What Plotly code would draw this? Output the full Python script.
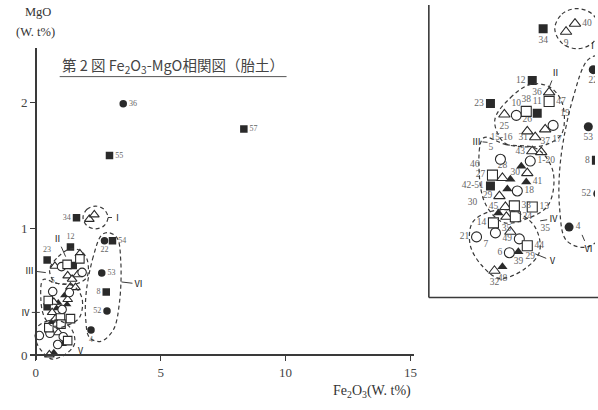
import plotly.graph_objects as go

W, H = 598, 410

# ---- samples: Fe2O3 (wt%) vs MgO (wt%), grouped by marker type ----
# filled squares
fsq_x = [1.63, 1.387, 0.453, 1.498, 0.453, 2.82, 3.07, 2.95, 8.33]
fsq_y = [1.089, 0.857, 0.754, 0.710, 0.384, 0.50, 0.906, 1.58, 1.79]
fsq_id = ["34", "12", "23", "11", "42-51", "8", "54", "55", "57"]
# filled circles
fci_x = [3.5, 2.75, 2.64, 2.85, 2.21]
fci_y = [1.99, 0.906, 0.65, 0.35, 0.20]
fci_id = ["36", "22", "53", "52", "4"]
# filled triangles
ftr_x = [1.142, 0.898, 1.253, 0.831, 0.631, 1.076, 0.72]
ftr_y = [0.473, 0.415, 0.402, 0.371, 0.263, 0.089, 0.022]
ftr_id = ["", "", "41", "", "", "", "48"]
# open triangles
otr_x = [2.142, 2.342, 1.764, 0.764, 1.276, 1.453, 1.676, 1.387, 1.587,
         0.72, 1.276, 0.653, 0.787, 0.809, 0.898, 0.542]
otr_y = [1.076, 1.112, 0.804, 0.705, 0.629, 0.603, 0.638, 0.540, 0.536,
         0.42, 0.442, 0.339, 0.290, 0.246, 0.179, 0.004]
otr_id = ["9", "40", "36", "25", "26", "31", "37", "43", "",
          "28", "30", "29", "45", "35", "", "32"]
# open circles
oci_x = [1.031, 1.853, 0.676, 1.342, 1.053, 0.142, 0.564, 1.098, 0.876]
oci_y = [0.701, 0.656, 0.504, 0.496, 0.362, 0.156, 0.174, 0.147, 0.085]
oci_id = ["10", "19", "5", "1-20", "18", "21", "7", "49", "6"]
# open squares
osq_x = [1.253, 1.764, 0.498, 0.987, 1.387, 1.009, 0.52, 1.276]
osq_y = [0.719, 0.763, 0.433, 0.295, 0.290, 0.246, 0.219, 0.116]
osq_id = ["38", "47", "27", "33", "13", "24", "14", "44"]

# extra sample numbers written beside overlapping symbols in the enlargement
note_txt = ["46", "15-16", "30", "39", "29", "17", "35"]
note_x = [0.10, 0.70, 0.05, 1.08, 1.34, 1.94, 1.68]
note_y = [0.48, 0.60, 0.31, 0.045, 0.068, 0.594, 0.192]

# group outlines (Fe2O3, MgO vertices)
grpI_x = [1.89, 2.05, 2.39, 2.73, 2.89, 2.73, 2.39, 2.05]
grpI_y = [1.09, 1.155, 1.18, 1.155, 1.09, 1.025, 1.0, 1.025]
grpII_x = [0.55, 0.9, 1.35, 1.76, 2.05, 2.05, 1.7, 1.2, 0.75]
grpII_y = [0.68, 0.78, 0.84, 0.83, 0.76, 0.62, 0.57, 0.56, 0.58]
grpIII_x = [0.3, 0.8, 1.5, 1.85, 1.75, 1.3, 0.75, 0.35, 0.2]
grpIII_y = [0.6, 0.57, 0.55, 0.45, 0.3, 0.24, 0.22, 0.3, 0.45]
grpV_x = [0.05, 0.45, 1.0, 1.45, 1.55, 1.2, 0.65, 0.25, 0.0]
grpV_y = [0.22, 0.27, 0.27, 0.2, 0.09, 0.01, -0.03, 0.03, 0.12]
grpVI_x = [2.63, 2.3, 2.02, 2.0, 2.15, 2.6, 3.1, 3.35, 3.4, 3.25, 2.9]
grpVI_y = [0.95, 0.78, 0.5, 0.28, 0.14, 0.11, 0.2, 0.42, 0.75, 0.93, 0.97]

x_ticks = [0, 5, 10, 15]
y_ticks = [0, 1, 2]

# ---- label placement (style) ----
fsq_main_pos = ["middle left", "top center", "top center", None, None,
                "middle left", "middle right", "middle right", "middle right"]
fsq_in_pos = ["bottom center", "middle left", "middle left", "top center",
              "middle left", "middle left", "middle right", None, None]
fci_main_pos = ["middle right", "bottom center", "middle right", "middle left", "bottom center"]
fci_in_pos = ["middle right", "bottom center", "bottom center", "middle left", "middle right"]
ftr_in_pos = [None, None, "middle right", None, None, None, "bottom center"]
otr_in_pos = ["bottom center", "middle right", "middle left", "bottom center", "top center",
              "middle left", "bottom center", "middle left", None, "top center",
              "middle left", "middle left", "middle left", "bottom center", None, "bottom center"]
oci_main_pos = [None, None, "top center", None, None, None, None, None, None]
oci_in_pos = ["top center", "top right", "top left", "middle right", "middle right",
              "middle left", "bottom left", "middle left", "middle left"]
osq_in_pos = ["top center", "middle right", "middle left", "middle right",
              "middle right", "middle right", "middle left", "middle right"]

INK = "#2a2a2a"
LINE = "#3a3a3a"
LBL = "#666666"
SERIF = "Liberation Serif, DejaVu Serif, serif"
CJK = "Noto Sans CJK JP, sans-serif"

# main axes geometry (pixels)
X0_PX, XU = 36, 25.1
Y0_PX, YU = 357, 127


def fx(p):
    return p / W


def fy(p):
    return 1 - p / H


fig = go.Figure()

SYMS = [
    ("square", fsq_x, fsq_y, fsq_id, fsq_main_pos, fsq_in_pos),
    ("circle", fci_x, fci_y, fci_id, fci_main_pos, fci_in_pos),
    ("triangle-up", ftr_x, ftr_y, ftr_id, [None] * len(ftr_x), ftr_in_pos),
    ("triangle-up-open", otr_x, otr_y, otr_id, [None] * len(otr_x), otr_in_pos),
    ("circle-open", oci_x, oci_y, oci_id, oci_main_pos, oci_in_pos),
    ("square-open", osq_x, osq_y, osq_id, [None] * len(osq_x), osq_in_pos),
]

for sym, xs, ys, ids, mpos, ipos in SYMS:
    base = sym.replace("-open", "")
    open_ = sym.endswith("-open")
    for axes, pos, size, tsize in (("main", mpos, 7.5, 8), ("inset", ipos, 9, 9.5)):
        text = [i if p else "" for i, p in zip(ids, pos)]
        tpos = [p if p else "middle right" for p in pos]
        fig.add_trace(go.Scatter(
            x=xs, y=ys, mode="markers+text", text=text, textposition=tpos,
            textfont=dict(family=SERIF, size=tsize, color=LBL),
            marker=dict(symbol=base, size=size + (1 if open_ else 0),
                        color="white" if open_ else INK,
                        line=dict(color=INK, width=1.1 if open_ else 0)),
            xaxis="x" if axes == "main" else "x2",
            yaxis="y" if axes == "main" else "y2",
            showlegend=False, hoverinfo="skip",
        ))

# dashed group outlines, in both views
for gx, gy in ((grpI_x, grpI_y), (grpII_x, grpII_y), (grpIII_x, grpIII_y),
               (grpV_x, grpV_y), (grpVI_x, grpVI_y)):
    for xa, ya in (("x", "y"), ("x2", "y2")):
        fig.add_trace(go.Scatter(
            x=gx + gx[:1], y=gy + gy[:1], mode="lines",
            line=dict(color=LINE, width=1.2, dash="4px,3px", shape="spline", smoothing=1.0),
            xaxis=xa, yaxis=ya, showlegend=False, hoverinfo="skip",
        ))

# loose sample numbers in the enlargement
fig.add_trace(go.Scatter(
    x=note_x, y=note_y, mode="text", text=note_txt,
    textfont=dict(family=SERIF, size=9.5, color=LBL),
    xaxis="x2", yaxis="y2", showlegend=False, hoverinfo="skip",
))

annotations = []
# group numerals with leader lines: (text, x, y, ax, ay)
main_roman = [("Ⅰ", 2.89, 1.09, 10, 0), ("Ⅱ", 1.195, 0.78, -8, -18),
              ("Ⅲ", 0.40, 0.654, -16, -2), ("Ⅳ", 0.16, 0.339, -14, 0),
              ("Ⅴ", 1.35, 0.11, 11, 9), ("Ⅵ", 3.43, 0.58, 17, 2)]
inset_roman = [("Ⅰ", 2.564, 1.04, 8, 6), ("Ⅱ", 1.764, 0.826, 6, -15),
               ("Ⅲ", 0.387, 0.58, -11, -1), ("Ⅳ", 1.564, 0.228, 13, -2),
               ("Ⅴ", 1.453, 0.08, 17, 7), ("Ⅵ", 2.50, 0.165, 6, 14)]
for rows, xr, yr in ((main_roman, "x", "y"), (inset_roman, "x2", "y2")):
    for t, x, y, ax, ay in rows:
        annotations.append(dict(
            text=t, x=x, y=y, xref=xr, yref=yr, ax=ax, ay=ay,
            showarrow=True, arrowhead=0, arrowwidth=1, arrowcolor=LINE, standoff=0,
            font=dict(family=CJK, size=9, color="#222"),
        ))


def paper_text(t, x, y, font):
    return dict(text=t, x=fx(x), y=fy(y), xref="paper", yref="paper",
                xanchor="center", yanchor="middle", showarrow=False, font=font)


AXF = dict(family=SERIF, size=12.5, color="#333")
annotations += [
    paper_text("MgO", 38, 12, AXF),
    paper_text("(W. t%)", 36, 32, AXF),
    paper_text("Fe<sub>2</sub>O<sub>3</sub>(W. t%)", 374, 393,
               dict(family=SERIF, size=14, color="#333")),
    paper_text("第 2 図 Fe<sub>2</sub>O<sub>3</sub>-MgO相関図（胎土）", 174, 66,
               dict(family=CJK, size=14.5, color="#444")),
]

shapes = [
    # caption underline
    dict(type="line", xref="paper", yref="paper", x0=fx(60), x1=fx(288),
         y0=fy(77), y1=fy(77), line=dict(color="#555", width=1)),
    # enlargement frame
    dict(type="line", xref="x2 domain", yref="y2 domain", x0=0, x1=0, y0=0, y1=1,
         line=dict(color=LINE, width=1.6)),
    dict(type="line", xref="x2 domain", yref="y2 domain", x0=0, x1=1.2, y0=0, y1=0,
         line=dict(color=LINE, width=1.6)),
]

xr = [-0.24, 15.15]
yr = [-0.04, 2.43]
fig.update_layout(
    width=W, height=H, margin=dict(l=0, r=0, t=0, b=0),
    paper_bgcolor="white", plot_bgcolor="rgba(0,0,0,0)",
    xaxis=dict(range=xr, domain=[fx(X0_PX + xr[0] * XU), fx(X0_PX + xr[1] * XU)],
               anchor="free", position=fy(Y0_PX), showline=True, linecolor=LINE,
               linewidth=1.6, ticks="outside", ticklen=5, tickwidth=1.3, tickcolor=LINE,
               tickvals=x_ticks, ticktext=[str(v) for v in x_ticks],
               tickfont=dict(family=SERIF, size=13, color="#444"),
               showgrid=False, zeroline=False),
    yaxis=dict(range=yr, domain=[fy(Y0_PX - yr[0] * YU), fy(Y0_PX - yr[1] * YU)],
               anchor="free", position=fx(X0_PX), showline=True, linecolor=LINE,
               linewidth=1.6, ticks="outside", ticklen=5, tickwidth=1.3, tickcolor=LINE,
               tickvals=y_ticks, ticktext=[str(v) for v in y_ticks],
               tickfont=dict(family=SERIF, size=13, color="#444"),
               showgrid=False, zeroline=False),
    xaxis2=dict(range=[-0.924, 2.789], domain=[fx(431), 1.0], anchor="y2", visible=False),
    yaxis2=dict(range=[-0.116, 1.196], domain=[fy(299), fy(5)], anchor="x2", visible=False),
    annotations=annotations,
    shapes=shapes,
)

fig.write_html("out.html")
